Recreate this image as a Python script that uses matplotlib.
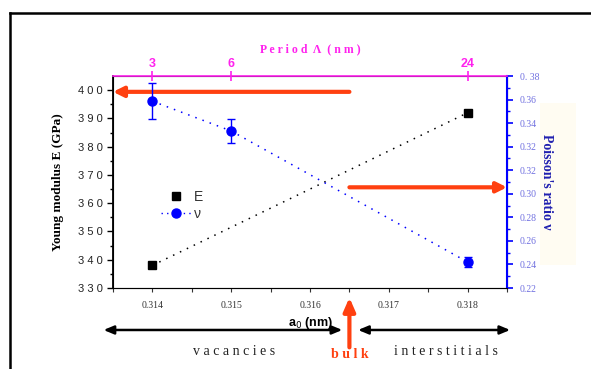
import numpy as np
import matplotlib.pyplot as plt
from matplotlib.lines import Line2D
from matplotlib.patches import Rectangle

# data
a0_E = [0.314, 0.318]
young_E = [338, 392]
a0_nu = [0.314, 0.315, 0.318]
poisson_nu = [0.361, 0.3385, 0.2396]
poisson_err = [0.0136, 0.0087, 0.004]
period_pos = [0.314, 0.315, 0.318]
period_labels = ['3', '6', '24']
nu_tick_labels = ['0.22', '0.24', '0.26', '0.28', '0.30', '0.32', '0.32', '0.34', '0.36', '0. 38']
bulk_a0 = 0.3165
bulk_E = 399.4
bulk_nu = 0.296

SERIF = 'Liberation Serif'
SANS = 'Liberation Sans'
MAG = '#ff22ee'
RED = '#ff4010'

fig = plt.figure(figsize=(5.91, 3.69), dpi=100)
ax = fig.add_axes([0.1912, 0.2195, 0.6667, 0.5745])
ax2 = ax.twinx()
ax3 = ax.twiny()

# cream panel behind the right label
fig.add_artist(Rectangle((540 / 591, 1 - 265 / 369), 36 / 591, 162 / 369,
                         transform=fig.transFigure, fc='#fffcf2', ec='none', zorder=0))

# Young modulus (left axis)
ax.plot(a0_E, young_E, color='black', ls=(0, (1, 4)), lw=1.1)
ax.plot(a0_E, young_E, 's', color='black', ms=6, ls='none')
ax.set_xlim(0.3135, 0.3185)
ax.set_ylim(330, 405)
ax.set_yticks(np.arange(330, 401, 10))
ax.set_yticks(np.arange(335, 405, 10), minor=True)
ax.set_xticks([0.314, 0.315, 0.316, 0.317, 0.318])
ax.set_xticks(np.arange(0.3135, 0.3186, 0.0005), minor=True)
ax.set_xticklabels(['0.314', '0.315', '0.316', '0.317', '0.318'],
                   fontfamily=SERIF, fontsize=7, color='#333333')
ax.set_yticklabels([' '.join(str(v)) for v in range(330, 401, 10)],
                   fontfamily=SANS, fontsize=8, color='#222222')
ax.tick_params(axis='y', which='major', length=4, width=1, direction='out')
ax.tick_params(axis='y', which='minor', length=2.5, width=1)
ax.tick_params(axis='x', which='both', length=3, width=0.8, color='#333333', pad=6)
ax.set_ylabel('Young modulus E (GPa)', fontfamily=SERIF, fontweight='bold',
              fontsize=9.5, labelpad=10)
ax.set_xlabel('a$_0$ (nm)', fontfamily=SANS, fontweight='bold', fontsize=9, labelpad=4)
ax.spines['left'].set_linewidth(1.3)
ax.spines['bottom'].set_color('#555555')

# Poisson ratio (right axis)
ax2.errorbar(a0_nu, poisson_nu, yerr=poisson_err, color='#0000ff', marker='o',
             ms=6.5, ls=(0, (1, 4)), lw=1.1, capsize=3, elinewidth=1)
ax2.set_ylim(0.22, 0.38)
nu_ticks = np.linspace(0.22, 0.38, len(nu_tick_labels))
ax2.set_yticks(nu_ticks)
ax2.set_yticklabels(nu_tick_labels, fontfamily=SERIF, fontsize=7, color='#7070e0')
ax2.set_yticks((nu_ticks[:-1] + nu_ticks[1:]) / 2, minor=True)
ax2.tick_params(axis='y', which='major', length=4, width=1.2, color='#0000ff', pad=5)
ax2.tick_params(axis='y', which='minor', length=2.5, width=1, color='#0000ff')
ax2.spines['right'].set_color('#0000ff')
ax2.spines['right'].set_linewidth(1.5)
ax2.spines['top'].set_visible(False)
ax2.set_ylabel("Poisson's ratio ν", fontfamily=SERIF, fontweight='bold', fontsize=10,
               color='#2020b0', rotation=-90, labelpad=10)

# Period (top axis)
ax3.set_xlim(ax.get_xlim())
ax3.set_xticks(period_pos)
ax3.set_xticklabels(period_labels, fontfamily=SANS, fontweight='bold', fontsize=9, color=MAG)
ax3.tick_params(axis='x', direction='inout', length=7, width=1.2, color=MAG, pad=1)
ax3.spines['top'].set_color(MAG)
ax3.spines['top'].set_linewidth(1.2)
for s in ['left', 'right', 'bottom']:
    ax3.spines[s].set_visible(False)
ax3.set_xlabel('P e r i o d  Λ  ( n m )', fontfamily=SERIF, fontweight='bold',
               fontsize=8.5, color=MAG, labelpad=4)

# legend
handles = [Line2D([], [], marker='s', color='black', ls='none', ms=6),
           Line2D([], [], marker='o', color='#0000ff', ls=(0, (1, 3)), ms=6.5, lw=1)]
leg = ax.legend(handles, ['E', 'ν'], loc='center left', bbox_to_anchor=(0.09, 0.39),
                frameon=False, fontsize=8, handlelength=2.2, labelspacing=0.25,
                handletextpad=0.2, prop={'family': SANS})
for t in leg.get_texts():
    t.set_color('#333333')

# bulk arrows
ax.annotate('', xy=(0.3135, bulk_E), xytext=(bulk_a0, bulk_E),
            arrowprops=dict(arrowstyle='-|>,head_length=0.6,head_width=0.3',
                            color=RED, lw=3, shrinkA=0, shrinkB=0), zorder=5)
ax2.annotate('', xy=(0.3185, bulk_nu), xytext=(bulk_a0, bulk_nu),
             arrowprops=dict(arrowstyle='-|>,head_length=0.6,head_width=0.3',
                             color=RED, lw=3, shrinkA=0, shrinkB=0), zorder=5)

trans = ax.get_xaxis_transform()
ax.annotate('', xy=(bulk_a0, -0.045), xytext=(bulk_a0, -0.28), xycoords=trans,
            textcoords=trans, annotation_clip=False,
            arrowprops=dict(arrowstyle='-|>,head_length=0.8,head_width=0.35',
                            color=RED, lw=3, shrinkA=0, shrinkB=0))
ax.text(bulk_a0, -0.285, 'b u l k', transform=trans, ha='center', va='top',
        fontfamily=SERIF, fontweight='bold', fontsize=10, color=RED)

arrow_kw = dict(arrowstyle='<|-|>,head_length=0.6,head_width=0.25', color='black',
                lw=1.8, shrinkA=0, shrinkB=0)
ax.annotate('', xy=(0.31338, -0.198), xytext=(0.31641, -0.198), xycoords=trans,
            textcoords=trans, annotation_clip=False, arrowprops=arrow_kw)
ax.annotate('', xy=(0.31661, -0.198), xytext=(0.31854, -0.198), xycoords=trans,
            textcoords=trans, annotation_clip=False, arrowprops=arrow_kw)
ax.text(0.31503, -0.30, 'v a c a n c i e s', transform=trans, ha='center',
        va='center', fontfamily=SERIF, fontsize=10, color='#222222')
ax.text(0.31773, -0.30, 'i n t e r s t i t i a l s', transform=trans, ha='center',
        va='center', fontfamily=SERIF, fontsize=10, color='#222222')

# slide frame
fig.add_artist(Line2D([10 / 591, 10 / 591], [0, 1 - 13 / 369], color='black', lw=1.8))
fig.add_artist(Line2D([10 / 591, 1], [1 - 13 / 369, 1 - 13 / 369], color='black', lw=1.8))

fig.savefig('out.png', dpi=100)
